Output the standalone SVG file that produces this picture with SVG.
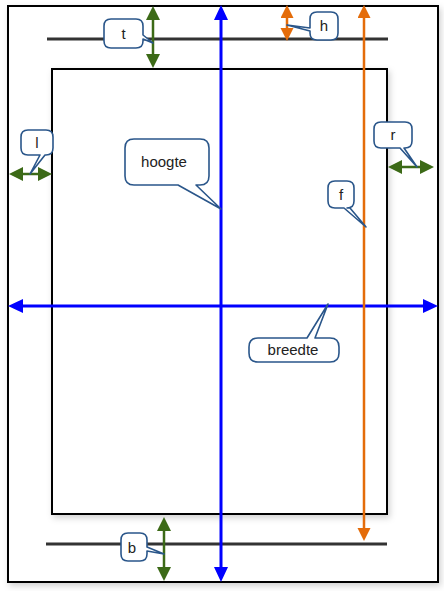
<svg xmlns="http://www.w3.org/2000/svg" width="444" height="591" viewBox="0 0 444 591">
<style>
.frame{fill:#fff;stroke:#000;stroke-width:2}
.rule{stroke:#333;stroke-width:3}
.blue{stroke:#0000ff;stroke-width:3;fill:none}
.green{stroke:#3c6a17;stroke-width:2.5;fill:none}
.orange{stroke:#e46c0a;stroke-width:2.5;fill:none}
.callout{fill:#fff;stroke:#2a568a;stroke-width:1.6;stroke-linejoin:round}
.lbl{font-family:"Liberation Sans",Arial,sans-serif;font-size:15px;fill:#222;text-anchor:middle}
</style>
<defs>
<filter id="sh" x="-10%" y="-10%" width="120%" height="120%">
<feDropShadow dx="2" dy="3" stdDeviation="3" flood-color="#000" flood-opacity="0.18"/>
</filter>
<marker id="mb" markerUnits="userSpaceOnUse" markerWidth="16" markerHeight="15" refX="9" refY="7" orient="auto-start-reverse"><path d="M0,0 L15,7 L0,14 z" fill="#0000ff"/></marker>
<marker id="mg" markerUnits="userSpaceOnUse" markerWidth="16" markerHeight="15" refX="8" refY="7" orient="auto-start-reverse"><path d="M0,0 L14,7 L0,14 z" fill="#3c6a17"/></marker>
<marker id="mo" markerUnits="userSpaceOnUse" markerWidth="16" markerHeight="15" refX="7" refY="6.5" orient="auto-start-reverse"><path d="M0,0 L13,6.5 L0,13 z" fill="#e46c0a"/></marker>
</defs>
<g id="page"><rect class="frame" x="8" y="6" width="430" height="576" filter="url(#sh)"/></g>
<g id="printarea"><rect class="frame" x="52" y="69" width="335" height="445" filter="url(#sh)"/></g>
<g id="rules">
<line class="rule" x1="47" y1="39" x2="388" y2="39"/>
<line class="rule" x1="46" y1="544" x2="387" y2="544"/>
</g>
<g id="connectors">
<line class="blue" x1="221" y1="11" x2="221" y2="576" marker-start="url(#mb)" marker-end="url(#mb)"/>
<line class="blue" x1="14" y1="306" x2="432" y2="306" marker-start="url(#mb)" marker-end="url(#mb)"/>
<line class="green" x1="153" y1="12" x2="153" y2="62" marker-start="url(#mg)" marker-end="url(#mg)"/>
<line class="green" x1="15" y1="174" x2="46" y2="174" marker-start="url(#mg)" marker-end="url(#mg)"/>
<line class="green" x1="394" y1="167" x2="428" y2="167" marker-start="url(#mg)" marker-end="url(#mg)"/>
<line class="green" x1="164" y1="523" x2="164" y2="575" marker-start="url(#mg)" marker-end="url(#mg)"/>
<line class="orange" x1="287" y1="11" x2="287" y2="35" marker-start="url(#mo)" marker-end="url(#mo)"/>
<line class="orange" x1="364" y1="11" x2="364" y2="535" marker-start="url(#mo)" marker-end="url(#mo)"/>
</g>
<g id="callout-t"><path class="callout" d="M111,19 H136 Q143,19 143,26 V35 L153,43 L143,39 V41 Q143,48 136,48 H111 Q104,48 104,41 V26 Q104,19 111,19 Z"/><text class="lbl" x="123.5" y="39">t</text></g>
<g id="callout-h"><path class="callout" d="M317,12 H331 Q338,12 338,19 V33 Q338,40 331,40 H317 Q310,40 310,33 V31 L287,25 L310,28 V19 Q310,12 317,12 Z"/><text class="lbl" x="324" y="31">h</text></g>
<g id="callout-l"><path class="callout" d="M28,130 H46 Q53,130 53,137 V148 Q53,155 46,155 H45 L30,174 L40,155 H28 Q21,155 21,148 V137 Q21,130 28,130 Z"/><text class="lbl" x="37" y="148">l</text></g>
<g id="callout-r"><path class="callout" d="M381,122 H405 Q412,122 412,129 V141 Q412,148 405,148 H404 L417,167 L400,148 H381 Q374,148 374,141 V129 Q374,122 381,122 Z"/><text class="lbl" x="393" y="140">r</text></g>
<g id="callout-f"><path class="callout" d="M335,181 H347 Q354,181 354,188 V201 Q354,208 347,208 H350 L366,227 L344,208 H335 Q328,208 328,201 V188 Q328,181 335,181 Z"/><text class="lbl" x="341" y="200">f</text></g>
<g id="callout-hoogte"><path class="callout" d="M134,139 H200 Q209,139 209,148 V176 Q209,185 200,185 H196 L221,209 L178,185 H134 Q125,185 125,176 V148 Q125,139 134,139 Z"/><text class="lbl" x="164" y="167">hoogte</text></g>
<g id="callout-breedte"><path class="callout" d="M258,338 H307 L328,304 L315,338 H330 Q339,338 339,347 V353 Q339,362 330,362 H258 Q249,362 249,353 V347 Q249,338 258,338 Z"/><text class="lbl" x="293" y="355">breedte</text></g>
<g id="callout-b"><path class="callout" d="M128,533 H140 Q147,533 147,540 V547 L164,554 L147,551 V554 Q147,561 140,561 H128 Q121,561 121,554 V540 Q121,533 128,533 Z"/><text class="lbl" x="132" y="553">b</text></g>
</svg>
